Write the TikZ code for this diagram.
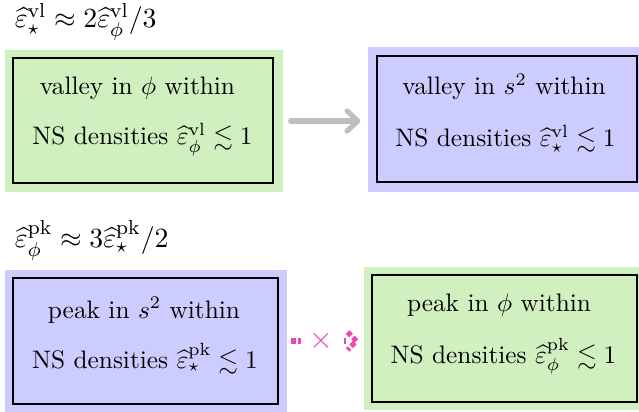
\documentclass[tikz,border=0pt]{standalone}
\usepackage{amsmath,amssymb}
\usetikzlibrary{arrows.meta}
\definecolor{bggreen}{RGB}{208,240,192}
\definecolor{bgblue}{RGB}{204,204,255}
\definecolor{arrgray}{RGB}{190,190,190}
\definecolor{pinkc}{RGB}{240,70,175}
\begin{document}
\begin{tikzpicture}[x=0.395pt,y=-0.395pt,
  bgbox/.style={inner sep=0pt, draw=none},
  framebox/.style={draw=black, line width=0.8pt, inner sep=0pt},
  txtline/.style={anchor=base, inner sep=0pt},
  lbl/.style={anchor=base west, fill=white, font=\fontsize{10.8pt}{13pt}\selectfont},
  graylink/.style={draw=arrgray, line width=2pt, line cap=round,
    -{Straight Barb[length=4.3pt,width=8pt,round]},
    shorten <=2.8pt, shorten >=2.8pt},
  pinklink/.style={draw=pinkc, line width=2pt, dash pattern=on 2pt off 1pt},
]
\useasboundingbox (0,0) rectangle (639,412);
\clip (0,0) rectangle (639,412);

% backgrounds
\node[bgbox, fill=bggreen, minimum width=109.8pt, minimum height=56.1pt] (tlbg) at (144,121) {};
\node[bgbox, fill=bgblue,  minimum width=109.8pt, minimum height=57.3pt] (trbg) at (507,119.5) {};
\node[bgbox, fill=bgblue,  minimum width=111.4pt, minimum height=56.1pt] (blbg) at (146,341) {};
\node[bgbox, fill=bggreen, minimum width=111.4pt, minimum height=56.5pt] (brbg) at (505,338.5) {};

% frames
\node[framebox, minimum width=102.7pt, minimum height=49.4pt] (tlbox) at (143,120.5) {};
\node[framebox, minimum width=102.7pt, minimum height=49.8pt] (trbox) at (507,119) {};
\node[framebox, minimum width=104.7pt, minimum height=49.8pt] (blbox) at (145.5,341) {};
\node[framebox, minimum width=104.7pt, minimum height=50.2pt] (brbox) at (504.5,338.5) {};

% texts
\node[txtline] (tl1) at (137.5,95) {valley in $\phi$ within};
\node[txtline] (tl2) at (142.5,145) {NS densities $\widehat{\varepsilon}_{\phi}^{\rm vl} \lesssim 1$};
\node[txtline] (tr1) at (504,95) {valley in $s^2$ within};
\node[txtline] (tr2) at (505.5,146.5) {NS densities $\widehat{\varepsilon}_{\star}^{\rm vl} \lesssim 1$};
\node[txtline] (bl1) at (144,318) {peak in $s^2$ within};
\node[txtline] (bl2) at (145,368) {NS densities $\widehat{\varepsilon}_{\star}^{\rm pk} \lesssim 1$};
\node[txtline] (br1) at (499,312) {peak in $\phi$ within};
\node[txtline] (br2) at (503.5,363) {NS densities $\widehat{\varepsilon}_{\phi}^{\rm pk} \lesssim 1$};

% labels
\node[lbl] (lbltop) at (6,28) {$\widehat{\varepsilon}_{\star}^{\rm vl} \approx 2\widehat{\varepsilon}_{\phi}^{\rm vl}/3$};
\node[lbl] (lblbot) at (6,248) {$\widehat{\varepsilon}_{\phi}^{\rm pk} \approx 3\widehat{\varepsilon}_{\star}^{\rm pk}/2$};

% gray arrow
\draw[graylink] (tlbg.east) -- (tlbg.east -| trbg.west);

% pink dotted arrow with cross
\coordinate (pm) at (blbg.east -| brbg.west);
\coordinate (pe) at ([xshift=-7.1pt]pm);
\draw[pinklink, shorten <=1.2pt] (blbg.east) -- node[pos=0.58, fill=white, text=pinkc, inner sep=2.6pt, scale=1.2] (cross) {$\times$} (pe);
\draw[pinklink] ([shift={(2,-9)}]pe) -- ([shift={(11,0)}]pe) -- ([shift={(2,9)}]pe);
\end{tikzpicture}
\end{document}
